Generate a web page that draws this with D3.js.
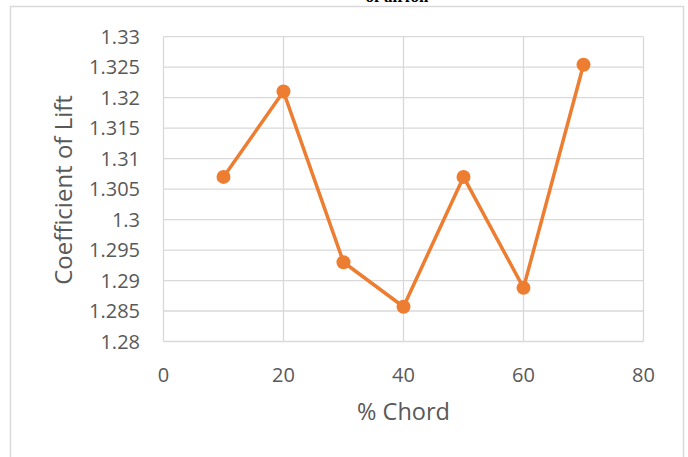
<!DOCTYPE html>
<html>
<head>
<meta charset="utf-8">
<script src="https://cdn.jsdelivr.net/npm/d3@7"></script>
<style>
  body { margin: 0; background: #fff; }
  svg { display: block; }
</style>
</head>
<body>
<svg id="chart"></svg>
<script>
// Data
const chordPct = [10, 20, 30, 40, 50, 60, 70];
const liftCoef = [1.307, 1.321, 1.293, 1.2857, 1.307, 1.2888, 1.3254];
const xTicks = [0, 20, 40, 60, 80];
const yTicks = [1.28, 1.285, 1.29, 1.295, 1.3, 1.305, 1.31, 1.315, 1.32, 1.325, 1.33];

const width = 688;
const height = 457;

const svg = d3.select("#chart")
  .attr("width", width)
  .attr("height", height);

// Cut-off caption line above the chart frame
svg.append("text")
  .attr("x", 397)
  .attr("y", 2)
  .attr("text-anchor", "middle")
  .attr("font-family", "'Liberation Serif', serif")
  .attr("font-weight", "bold")
  .attr("font-size", 17)
  .attr("fill", "#000")
  .text("of airfoil");

// Chart frame
svg.append("rect")
  .attr("x", 10.5)
  .attr("y", 6.5)
  .attr("width", 673)
  .attr("height", 480)
  .attr("fill", "#fff")
  .attr("stroke", "#d9d9d9")
  .attr("stroke-width", 1.5);

// Plot area
const plotLeft = 163.5, plotRight = 643.5, plotTop = 36.7, plotBottom = 341.5;

const x = d3.scaleLinear().domain([0, 80]).range([plotLeft, plotRight]);
const y = d3.scaleLinear().domain([1.28, 1.33]).range([plotBottom, plotTop]);

const font = "'Open Sans', 'Noto Sans', sans-serif";
const textColor = "#595959";

// Gridlines
svg.append("g")
  .selectAll("line")
  .data(yTicks)
  .join("line")
  .attr("x1", plotLeft).attr("x2", plotRight)
  .attr("y1", d => y(d)).attr("y2", d => y(d))
  .attr("stroke", "#d9d9d9").attr("stroke-width", 1.3);

svg.append("g")
  .selectAll("line")
  .data(xTicks)
  .join("line")
  .attr("x1", d => x(d)).attr("x2", d => x(d))
  .attr("y1", plotTop).attr("y2", plotBottom)
  .attr("stroke", "#d9d9d9").attr("stroke-width", 1.3);

// Y tick labels
svg.append("g")
  .selectAll("text")
  .data(yTicks)
  .join("text")
  .attr("x", 140)
  .attr("y", d => y(d))
  .attr("dy", "0.35em")
  .attr("text-anchor", "end")
  .attr("font-family", font)
  .attr("font-size", 20)
  .attr("fill", textColor)
  .text(d => d3.format("")(d));

// X tick labels
svg.append("g")
  .selectAll("text")
  .data(xTicks)
  .join("text")
  .attr("x", d => x(d))
  .attr("y", 375)
  .attr("dy", "0.35em")
  .attr("text-anchor", "middle")
  .attr("font-family", font)
  .attr("font-size", 20)
  .attr("fill", textColor)
  .text(d => d);

// Axis titles
svg.append("text")
  .attr("x", (plotLeft + plotRight) / 2)
  .attr("y", 412)
  .attr("dy", "0.35em")
  .attr("text-anchor", "middle")
  .attr("font-family", font)
  .attr("font-size", 23.5)
  .attr("fill", textColor)
  .text("% Chord");

svg.append("text")
  .attr("transform", "translate(64,190) rotate(-90)")
  .attr("dy", "0.35em")
  .attr("text-anchor", "middle")
  .attr("font-family", font)
  .attr("font-size", 24)
  .attr("fill", textColor)
  .text("Coefficient of Lift");

// Series line and markers
const points = chordPct.map((c, i) => [c, liftCoef[i]]);

svg.append("path")
  .datum(points)
  .attr("fill", "none")
  .attr("stroke", "#ED7D31")
  .attr("stroke-width", 3.5)
  .attr("stroke-linejoin", "round")
  .attr("d", d3.line().x(d => x(d[0])).y(d => y(d[1])));

svg.append("g")
  .selectAll("circle")
  .data(points)
  .join("circle")
  .attr("cx", d => x(d[0]))
  .attr("cy", d => y(d[1]))
  .attr("r", 7)
  .attr("fill", "#ED7D31");
</script>
</body>
</html>
